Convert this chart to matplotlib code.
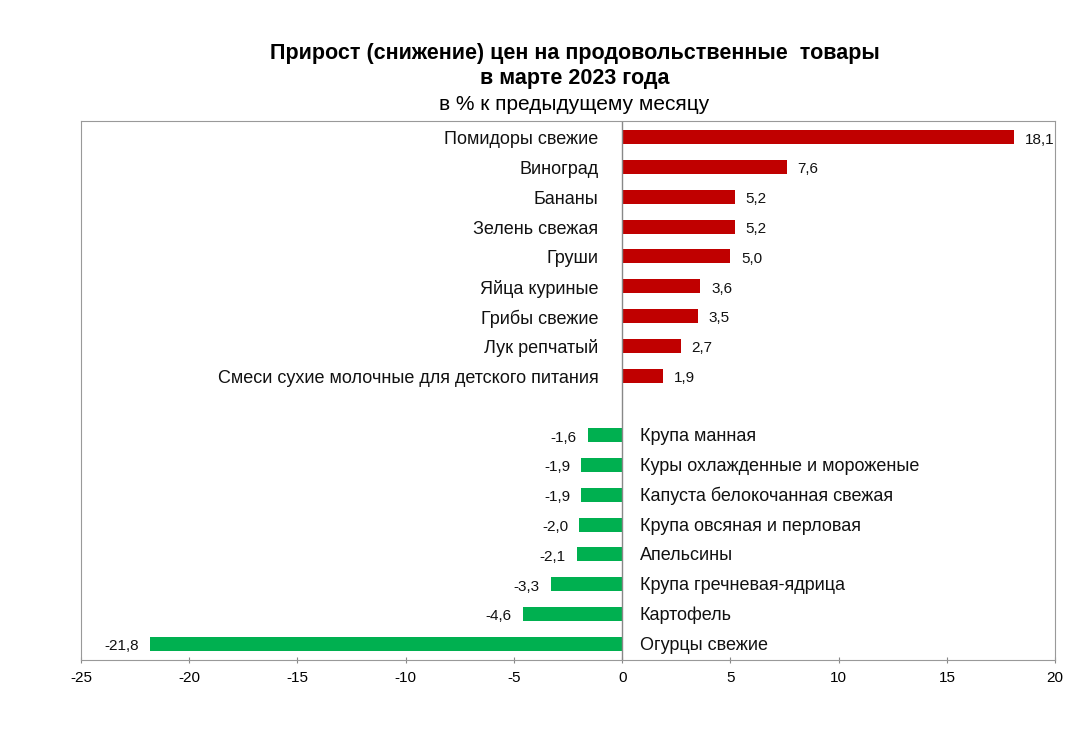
import numpy as np
import matplotlib.pyplot as plt

plt.rcParams['font.family'] = ['Liberation Sans', 'DejaVu Sans']
plt.rcParams['axes.unicode_minus'] = False

# Данные
pos_labels = ["Помидоры свежие", "Виноград", "Бананы", "Зелень свежая", "Груши",
              "Яйца куриные", "Грибы свежие", "Лук репчатый",
              "Смеси сухие молочные для детского питания"]
pos_values = [18.1, 7.6, 5.2, 5.2, 5.0, 3.6, 3.5, 2.7, 1.9]

neg_labels = ["Крупа манная", "Куры охлажденные и мороженые",
              "Капуста белокочанная свежая", "Крупа овсяная и перловая",
              "Апельсины", "Крупа гречневая-ядрица", "Картофель", "Огурцы свежие"]
neg_values = [-1.6, -1.9, -1.9, -2.0, -2.1, -3.3, -4.6, -21.8]

red = "#C00000"
green = "#00B050"

fig = plt.figure(figsize=(10.8, 7.39), dpi=100)
ax = fig.add_axes([0.075, 0.107, 0.902, 0.729])

y_pos = np.arange(len(pos_values))
y_neg = np.arange(len(neg_values)) + len(pos_values) + 1

ax.barh(y_pos, pos_values, height=0.47, color=red)
ax.barh(y_neg, neg_values, height=0.47, color=green)

def fmt(v):
    return f"{v:.1f}".replace(".", ",")

# подписи категорий и значений
for y, v, lab in zip(y_pos, pos_values, pos_labels):
    ax.text(-1.1, y + 0.08, lab, ha="right", va="center", fontsize=13, color="#111111")
    ax.text(v + 0.5, y + 0.08, fmt(v), ha="left", va="center", fontsize=11, color="#111111")

for y, v, lab in zip(y_neg, neg_values, neg_labels):
    ax.text(0.8, y + 0.05, lab, ha="left", va="center", fontsize=13, color="#111111")
    ax.text(v - 0.5, y + 0.08, fmt(v), ha="right", va="center", fontsize=11, color="#111111")

ax.axvline(0, color="#888888", lw=1)
ax.set_xlim(-25, 20)
ax.set_ylim(17.54, -0.54)
ax.set_xticks(np.arange(-25, 21, 5))
ax.set_yticks([])
ax.tick_params(axis="x", labelsize=11, length=4, pad=6, direction="inout", color="#888888")
for s in ax.spines.values():
    s.set_color("#999999")

fig.text(0.532, 0.928, "Прирост (снижение) цен на продовольственные  товары",
         ha="center", va="center", fontsize=15.5, fontweight="bold")
fig.text(0.532, 0.894, "в марте 2023 года", ha="center", va="center",
         fontsize=15.5, fontweight="bold")
fig.text(0.532, 0.859, "в % к предыдущему месяцу", ha="center", va="center",
         fontsize=15)

fig.savefig("out.png", dpi=100)
